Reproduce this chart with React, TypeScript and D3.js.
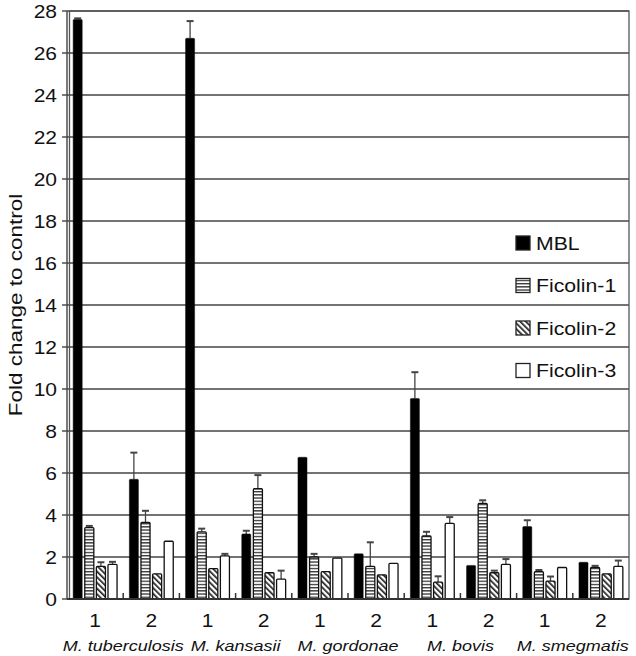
import React from 'react';
import * as d3 from 'd3';

const groups = ['1', '2', '1', '2', '1', '2', '1', '2', '1', '2'];
const species = ['M. tuberculosis', 'M. kansasii', 'M. gordonae', 'M. bovis', 'M. smegmatis'];
const seriesNames = ['MBL', 'Ficolin-1', 'Ficolin-2', 'Ficolin-3'];

const mbl = [27.6, 5.7, 26.7, 3.1, 6.75, 2.15, 9.55, 1.6, 3.45, 1.75];
const mblErr = [0.05, 1.27, 0.82, 0.15, 0, 0, 1.25, 0, 0.3, 0];
const fic1 = [3.4, 3.65, 3.2, 5.25, 2.0, 1.55, 3.0, 4.55, 1.3, 1.5];
const fic1Err = [0.08, 0.55, 0.15, 0.65, 0.15, 1.15, 0.2, 0.15, 0.08, 0.08];
const fic2 = [1.55, 1.2, 1.45, 1.25, 1.3, 1.15, 0.8, 1.25, 0.85, 1.2];
const fic2Err = [0.2, 0, 0, 0, 0, 0, 0.28, 0.1, 0.22, 0];
const fic3 = [1.65, 2.75, 2.05, 0.95, 1.95, 1.7, 3.6, 1.65, 1.5, 1.55];
const fic3Err = [0.12, 0, 0.1, 0.4, 0, 0, 0.3, 0.25, 0, 0.28];

const values = [mbl, fic1, fic2, fic3];
const errors = [mblErr, fic1Err, fic2Err, fic3Err];
const fills = ['#000', 'url(#hstripe)', 'url(#dstripe)', '#fff'];

const W = 636;
const H = 656;
const margin = { top: 11, right: 7, bottom: 57, left: 67 };
const SX = 1.2;
const FONT = 'Liberation Sans, Arial, sans-serif';

function Txt({ x, y, size, anchor = 'start', rotate = 0, italic = false, sx = SX, children }: any) {
  return (
    <text
      transform={`translate(${x},${y}) rotate(${rotate}) scale(${sx},1)`}
      fontSize={size}
      fontFamily={FONT}
      fontStyle={italic ? 'italic' : 'normal'}
      textAnchor={anchor}
      fill="#111"
    >
      {children}
    </text>
  );
}

export default function App() {
  const innerW = W - margin.left - margin.right;
  const innerH = H - margin.top - margin.bottom;
  const x0 = d3.scaleBand<number>().domain(d3.range(groups.length)).range([0, innerW]);
  const x1 = d3
    .scaleBand<number>()
    .domain(d3.range(seriesNames.length))
    .range([0, x0.bandwidth()])
    .paddingInner(0.22)
    .paddingOuter(0.53);
  const y = d3.scaleLinear().domain([0, 28]).range([innerH, 0]);
  const yTicks = d3.range(0, 29, 2);
  const bw = x1.bandwidth();

  return (
    <svg width={W} height={H} style={{ position: 'absolute', left: 0, top: 0, background: '#fff' }}>
      <defs>
        <pattern id="hstripe" patternUnits="userSpaceOnUse" width="6" height="3.2">
          <rect width="6" height="3.2" fill="#fff" />
          <rect y="0" width="6" height="1.3" fill="#333" />
        </pattern>
        <pattern id="dstripe" patternUnits="userSpaceOnUse" width="4" height="4" patternTransform="rotate(-45)">
          <rect width="4" height="4" fill="#fff" />
          <rect x="0" width="1.7" height="4" fill="#222" />
        </pattern>
      </defs>
      <g transform={`translate(${margin.left},${margin.top})`}>
        {/* gridlines */}
        {yTicks.map(t => (
          <line key={t} x1={0} x2={innerW} y1={y(t)} y2={y(t)} stroke="#444" strokeWidth={1.6} />
        ))}
        {/* frame */}
        <rect x={2.5} y={0} width={innerW - 2.5} height={innerH} fill="none" stroke="#555" strokeWidth={1.3} />
        <line x1={0} x2={0} y1={0} y2={innerH} stroke="#444" strokeWidth={1.4} />
        {yTicks.map(t => (
          <line key={'yt' + t} x1={-5} x2={0} y1={y(t)} y2={y(t)} stroke="#444" strokeWidth={1.4} />
        ))}

        {/* bars */}
        {groups.map((g, gi) =>
          seriesNames.map((s, si) => {
            const v = values[si][gi];
            const e = errors[si][gi];
            const bx = (x0(gi) as number) + (x1(si) as number);
            const cx = bx + bw / 2;
            return (
              <g key={gi + '-' + si}>
                {e > 0 && (
                  <g stroke="#444" strokeWidth={1.3}>
                    <line x1={cx} x2={cx} y1={y(v)} y2={y(v + e)} />
                    <line x1={cx - 3.5} x2={cx + 3.5} y1={y(v + e)} y2={y(v + e)} strokeWidth={2} />
                  </g>
                )}
                <rect
                  x={bx}
                  y={y(v)}
                  width={bw}
                  height={y(0) - y(v)}
                  fill={fills[si]}
                  stroke="#111"
                  strokeWidth={si === 0 ? 0.5 : 1.3}
                  rx={1}
                />
              </g>
            );
          })
        )}

        {/* x axis */}
        <line x1={0} x2={innerW} y1={innerH} y2={innerH} stroke="#333" strokeWidth={2} />
        {d3.range(1, groups.length).map(i => (
          <line key={'xt' + i} x1={x0(i)} x2={x0(i)} y1={innerH} y2={innerH - 6} stroke="#333" strokeWidth={1.5} />
        ))}
        {groups.map((g, gi) => (
          <Txt key={'gl' + gi} x={(x0(gi) as number) + x0.bandwidth() / 2} y={innerH + 28} size={17.5} anchor="middle">
            {g}
          </Txt>
        ))}
        {species.map((s, i) => (
          <Txt key={'sp' + i} x={x0(i * 2 + 1) as number} y={innerH + 52} size={15} anchor="middle" italic>
            {s}
          </Txt>
        ))}

        {/* y tick labels */}
        {yTicks.map(t => (
          <Txt key={'yl' + t} x={-10} y={y(t) + 6.5} size={17.5} anchor="end">
            {t}
          </Txt>
        ))}
        <Txt x={-45} y={innerH / 2} size={18} anchor="middle" rotate={-90} sx={1.25}>
          Fold change to control
        </Txt>

        {/* legend */}
        {seriesNames.map((s, i) => {
          const ly = 232 - margin.top + i * 42.5;
          return (
            <g key={'lg' + s}>
              <rect x={516 - margin.left} y={ly + 4} width={14} height={14} fill={fills[i]} stroke="#222" strokeWidth={1.3} />
              <Txt x={536 - margin.left} y={ly + 17.5} size={18} sx={1.18}>
                {s}
              </Txt>
            </g>
          );
        })}
      </g>
    </svg>
  );
}
